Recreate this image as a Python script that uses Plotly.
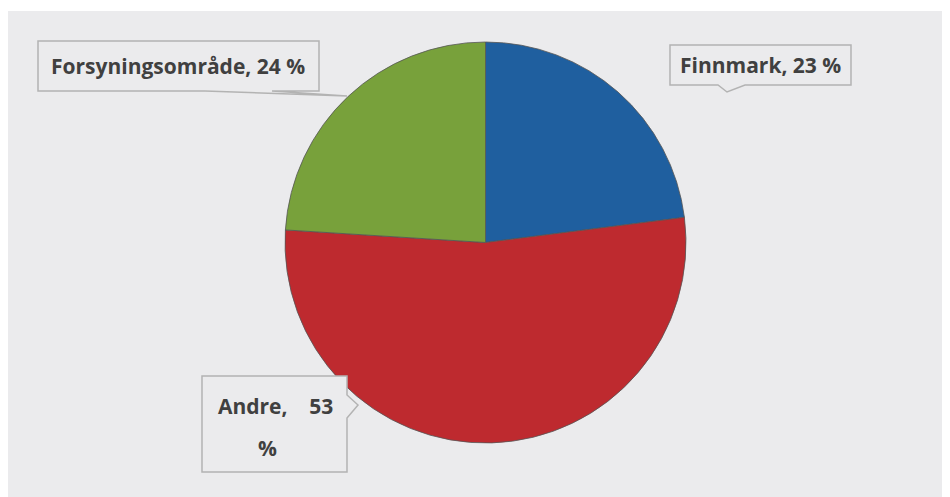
import plotly.graph_objects as go

# the page body adds an 8px margin, so the figure is sized to fill the rest
OFF = 8
W, H = 950 - OFF, 497 - OFF

labels = ["Finnmark", "Andre", "Forsyningsområde"]
values = [23, 53, 24]
colors = ["#1f5f9f", "#be2a2f", "#78a13b"]


def px(x):
    return (x - OFF) / W


def py(y):
    return 1 - (y - OFF) / H


def path(points):
    pts = ["%s%.5f,%.5f" % ("M" if i == 0 else "L", px(x), py(y)) for i, (x, y) in enumerate(points)]
    return " ".join(pts) + " Z"


fig = go.Figure()
fig.add_trace(go.Pie(
    labels=labels,
    values=values,
    sort=False,
    direction="clockwise",
    rotation=0,
    textinfo="none",
    hoverinfo="label+percent",
    marker=dict(colors=colors, line=dict(color="#555555", width=0.8)),
    domain=dict(x=[px(285), px(686)], y=[py(443), py(42)]),
    showlegend=False,
))

box_line = dict(color="#b3b3b3", width=1.5)
fill = "#ebebed"

shapes = [
    # panel background
    dict(type="rect", xref="paper", yref="paper", x0=0, x1=1, y0=0, y1=py(11),
         fillcolor=fill, line=dict(width=0), layer="below"),
    # Finnmark callout with pointer below
    dict(type="path", xref="paper", yref="paper",
         path=path([(670, 45), (851, 45), (851, 85), (745, 85), (727, 92), (718, 85), (670, 85)]),
         fillcolor=fill, line=box_line),
    # Forsyningsområde callout
    dict(type="path", xref="paper", yref="paper",
         path=path([(38, 41), (319, 41), (319, 91), (272, 91), (347, 96), (205, 91), (38, 91)]),
         fillcolor=fill, line=box_line),
    # Andre callout with pointer to the right
    dict(type="path", xref="paper", yref="paper",
         path=path([(202, 376), (347, 376), (347, 395), (358, 405), (347, 418), (347, 472), (202, 472)]),
         fillcolor=fill, line=box_line),
]

font = dict(family="Open Sans", size=21, color="#404040")
annotations = [
    dict(x=px(760), y=py(65), text="<b>Finnmark, 23 %</b>"),
    dict(x=px(178), y=py(66), text="<b>Forsyningsområde, 24 %</b>"),
    dict(x=px(275), y=py(406), text="<b>Andre,&nbsp;&nbsp;&nbsp;&nbsp;53</b>"),
    dict(x=px(267), y=py(448), text="<b>%</b>"),
]
for a in annotations:
    a.update(xref="paper", yref="paper", showarrow=False, font=font,
             xanchor="center", yanchor="middle")

fig.update_layout(
    width=W,
    height=H,
    margin=dict(l=0, r=0, t=0, b=0),
    paper_bgcolor="white",
    plot_bgcolor="white",
    shapes=shapes,
    annotations=annotations,
)

fig.write_html("out.html")
